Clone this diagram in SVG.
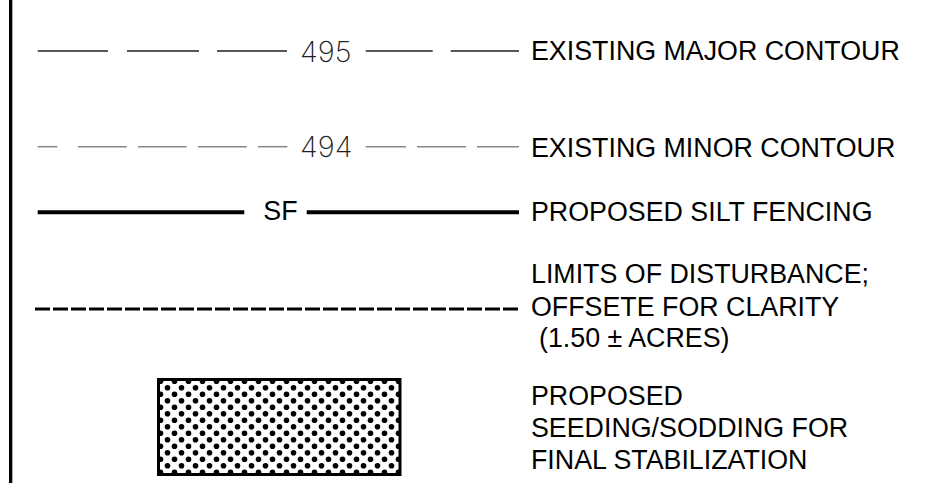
<svg xmlns="http://www.w3.org/2000/svg" width="934" height="483" viewBox="0 0 934 483">
<style>
.lbl{font-family:"Liberation Sans",Arial,sans-serif;font-size:26.8px;fill:#000}
.num{font-family:"Inter","DejaVu Sans",sans-serif;font-weight:200;font-size:29px;fill:#222}
.maj{stroke:#222;stroke-width:1.5;fill:none}
.min{stroke:#888;stroke-width:1.5;fill:none}
.sf{stroke:#000;stroke-width:4;fill:none}
.lod{stroke:#000;stroke-width:3;stroke-dasharray:15 3;fill:none}
</style>
<defs>
<pattern id="dots" x="157" y="378" width="14" height="13" patternUnits="userSpaceOnUse">
<rect width="14" height="13" fill="#fff"/>
<circle cx="3.5" cy="3.2" r="2.8" fill="#000"/>
<circle cx="10.5" cy="9.7" r="2.8" fill="#000"/>
</pattern>
</defs>
<rect width="934" height="483" fill="#fff"/>
<rect id="border" x="9" y="0" width="3.3" height="483" fill="#000"/>
<g id="connectors">
<g id="major-contour">
<line class="maj" x1="37.7" y1="51" x2="108" y2="51"/>
<line class="maj" x1="127" y1="51" x2="199" y2="51"/>
<line class="maj" x1="217" y1="51" x2="287" y2="51"/>
<line class="maj" x1="365.7" y1="51" x2="432.7" y2="51"/>
<line class="maj" x1="450.7" y1="51" x2="519" y2="51"/>
</g>
<g id="minor-contour">
<line class="min" x1="37.7" y1="146.7" x2="57.3" y2="146.7"/>
<line class="min" x1="78" y1="146.7" x2="126.7" y2="146.7"/>
<line class="min" x1="138" y1="146.7" x2="186.7" y2="146.7"/>
<line class="min" x1="198" y1="146.7" x2="246.7" y2="146.7"/>
<line class="min" x1="258" y1="146.7" x2="287.3" y2="146.7"/>
<line class="min" x1="365.7" y1="146.7" x2="406" y2="146.7"/>
<line class="min" x1="417" y1="146.7" x2="466" y2="146.7"/>
<line class="min" x1="477" y1="146.7" x2="519" y2="146.7"/>
</g>
<g id="silt-fence">
<line class="sf" x1="37.7" y1="212.3" x2="244.3" y2="212.3"/>
<line class="sf" x1="306.7" y1="212.3" x2="519" y2="212.3"/>
</g>
<line id="lod" class="lod" x1="35" y1="309" x2="519" y2="309"/>
</g>
<g id="legend-major">
<text class="num" x="300" y="61.5">495</text>
<text class="lbl" x="531" y="60">EXISTING MAJOR CONTOUR</text>
</g>
<g id="legend-minor">
<text class="num" x="300" y="157">494</text>
<text class="lbl" x="531" y="156.5">EXISTING MINOR CONTOUR</text>
</g>
<g id="legend-sf">
<text class="lbl" x="263.3" y="220">SF</text>
<text class="lbl" x="531" y="220.5">PROPOSED SILT FENCING</text>
</g>
<g id="legend-lod">
<text class="lbl" x="531" y="283">LIMITS OF DISTURBANCE;</text>
<text class="lbl" x="531" y="315.5">OFFSETE FOR CLARITY</text>
<text class="lbl" x="539" y="347">(1.50 ± ACRES)</text>
</g>
<g id="legend-seeding">
<rect x="158.5" y="379.5" width="241.5" height="95" fill="url(#dots)" stroke="#000" stroke-width="3"/>
<text class="lbl" x="531" y="405">PROPOSED</text>
<text class="lbl" x="531" y="437">SEEDING/SODDING FOR</text>
<text class="lbl" x="531" y="469">FINAL STABILIZATION</text>
</g>
</svg>
